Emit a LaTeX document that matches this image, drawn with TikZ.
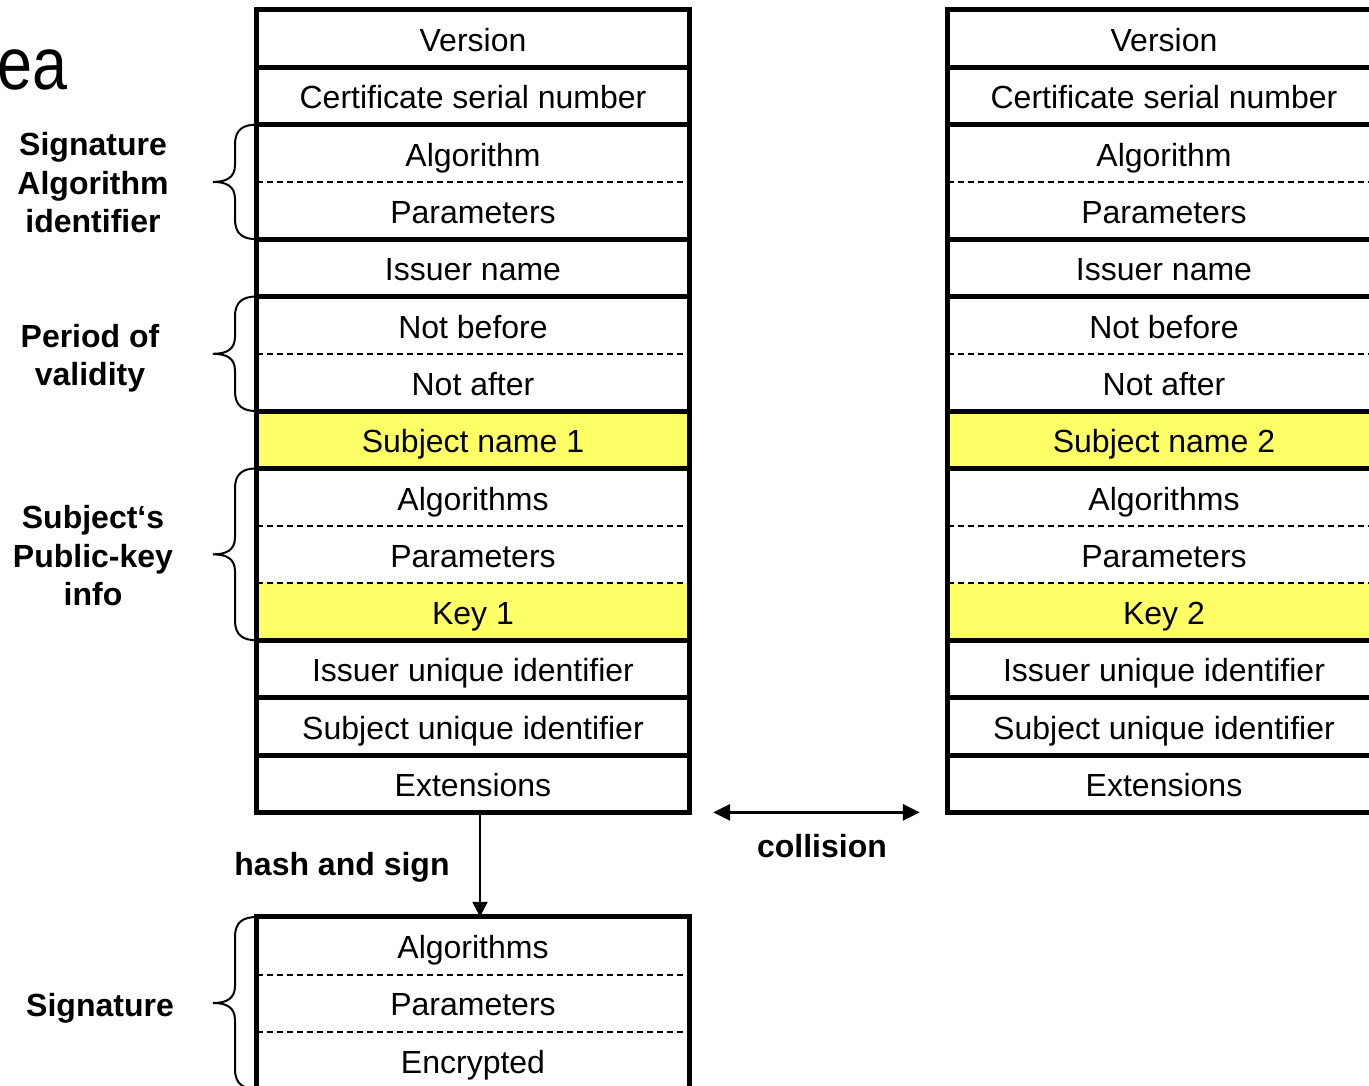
\documentclass[tikz,border=0pt]{standalone}
\usepackage{fontspec}
\setmainfont{Liberation Sans}
\usetikzlibrary{arrows.meta}
\definecolor{hlyellow}{RGB}{255,255,102}
% curly brace on the left of a table, from y=#1 (top) to y=#2 (bottom)
\newcommand\bracegroup[2]{%
  \pgfmathsetmacro\bm{(#1+#2)/2}%
  \draw[bracepen] (257,#1) .. controls (243,#1) and (235,{#1+5}) .. (235,{#1+20})
    -- (235,{\bm-17}) .. controls (235,{\bm-4}) and (226,\bm) .. (213,\bm)
    .. controls (226,\bm) and (235,{\bm+4}) .. (235,{\bm+17})
    -- (235,{#2-20}) .. controls (235,{#2-5}) and (243,#2) .. (257,#2);
}
\begin{document}
\begin{tikzpicture}[x=1pt,y=-1pt,
  cell/.style={minimum width=432pt, minimum height=57.3pt, inner sep=0pt,
    text height=26pt, text depth=0pt, font=\fontsize{32}{38}\selectfont},
  sep/.style={line width=5pt},
  dsep/.style={line width=2pt, dash pattern=on 6pt off 4pt},
  frame/.style={line width=5pt, line cap=rect},
  lbl/.style={font=\fontsize{32}{38.5}\selectfont\bfseries, align=center, inner sep=0pt},
  bracepen/.style={line width=2pt},
  arr/.style={line width=2.5pt, -{Triangle[length=15pt,width=15pt]}},
  darr/.style={line width=3pt, {Triangle[length=17pt,width=16pt]}-{Triangle[length=17pt,width=16pt]}}
]
\useasboundingbox (0,0) rectangle (1369,1086);
\clip (0,0) rectangle (1369,1086);

% certificate 1
\foreach [count=\i] \t/\f in {Version/white, Certificate serial number/white,
  Algorithm/white, Parameters/white, Issuer name/white, Not before/white,
  Not after/white, Subject name 1/hlyellow, Algorithms/white, Parameters/white,
  Key 1/hlyellow, Issuer unique identifier/white, Subject unique identifier/white,
  Extensions/white}
  \node[cell, fill=\f] (L\i) at (473, {10+(\i-0.5)*57.3}) {\t};

% certificate 2
\foreach [count=\i] \t/\f in {Version/white, Certificate serial number/white,
  Algorithm/white, Parameters/white, Issuer name/white, Not before/white,
  Not after/white, Subject name 2/hlyellow, Algorithms/white, Parameters/white,
  Key 2/hlyellow, Issuer unique identifier/white, Subject unique identifier/white,
  Extensions/white}
  \node[cell, fill=\f] (R\i) at (1164, {10+(\i-0.5)*57.3}) {\t};

% row separators
\foreach \i/\s in {1/sep,2/sep,3/dsep,4/sep,5/sep,6/dsep,7/sep,8/sep,9/dsep,
  10/dsep,11/sep,12/sep,13/sep} {
  \draw[\s] (L\i.south west) -- (L\i.south east);
  \draw[\s] (R\i.south west) -- (R\i.south east);
}
\draw[frame] (L1.north west) rectangle (L14.south east);
\draw[frame] (R1.north west) rectangle (R14.south east);

% signature block
\foreach [count=\i] \t in {Algorithms, Parameters, Encrypted}
  \node[cell, fill=white] (S\i) at (473, {917+(\i-0.5)*57.3}) {\t};
\draw[dsep] (S1.south west) -- (S1.south east);
\draw[dsep] (S2.south west) -- (S2.south east);
\draw[frame] (S1.north west) rectangle (S3.south east);

% braces and their labels
\bracegroup{124.6}{239.2}
\bracegroup{296.5}{411.1}
\bracegroup{468.4}{640.3}
\bracegroup{917}{1089}
\node[lbl] (sigalg) at (93,183) {Signature\\Algorithm\\identifier};
\node[lbl] (validity) at (90,358) {Period of\\validity};
\node[lbl] (pubkey) at (93,556) {Subject‘s\\Public-key\\info};
\node[lbl] (sig) at (100,1008) {Signature};

% arrows
\draw[arr] ([xshift=7pt]L14.south) -- ([xshift=7pt]S1.north);
\node[lbl] (hash) at (342,867) {hash and sign};
\draw[darr] ([xshift=24pt]L14.south east) -- ([xshift=-28pt]R14.south west);
\node[lbl] (coll) at (822,846) {collision};

% title fragment
\node[anchor=base west, inner sep=0pt, xscale=0.85,
  font=\fontsize{74}{74}\selectfont] (title) at (-3,90) {ea};
\end{tikzpicture}
\end{document}
